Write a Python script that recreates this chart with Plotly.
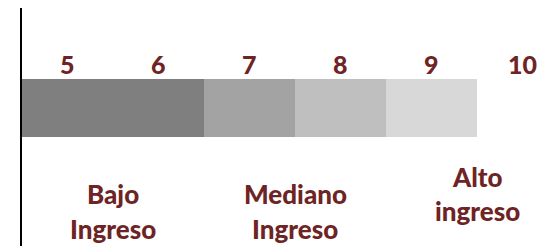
import plotly.graph_objects as go

# ---- data ----
tick_values = [5, 6, 7, 8, 9, 10]
tick_labels = ["5", "6", "7", "8", "9", "10"]
segment_start = [4.5, 6.5, 7.5, 8.5]
segment_end = [6.5, 7.5, 8.5, 9.5]
segment_colors = ["#7f7f7f", "#a3a3a3", "#bfbfbf", "#d8d8d8"]
group_line1 = ["Bajo", "Mediano", "Alto"]
group_line2 = ["Ingreso", "Ingreso", "ingreso"]
group_center = [5.5, 7.5, 9.5]

TEXT_COLOR = "#6e2424"
FONT = "Lato"

# page body has an 8px margin; positions below are in window pixels
SHIFT = 8

fig = go.Figure()
for s, e, c in zip(segment_start, segment_end, segment_colors):
    fig.add_trace(go.Bar(
        y=[108], x=[e - s], base=[s], orientation="h", width=58,
        marker=dict(color=c, line=dict(width=0)), showlegend=False,
        hoverinfo="skip",
    ))

for v, lab in zip(tick_values, tick_labels):
    fig.add_annotation(x=v, y=63, text=lab, showarrow=False,
                       font=dict(family=FONT, size=25, color=TEXT_COLOR, weight=900),
                       xanchor="center", yanchor="middle")

offsets = [0, 0, -18]
for xc, l1, l2, off in zip(group_center, group_line1, group_line2, offsets):
    fig.add_annotation(x=xc, y=195 + off, text=l1, showarrow=False,
                       font=dict(family=FONT, size=26, color=TEXT_COLOR, weight=900),
                       xanchor="center", yanchor="middle")
    fig.add_annotation(x=xc, y=230 + off, text=l2, showarrow=False,
                       font=dict(family=FONT, size=26, color=TEXT_COLOR, weight=900),
                       xanchor="center", yanchor="middle")

px_per_unit = 91.0
left = 22 - SHIFT
fig.update_layout(
    width=553, height=246,
    margin=dict(l=left, r=0, t=0, b=0),
    paper_bgcolor="white", plot_bgcolor="white",
    barmode="overlay", bargap=0,
    xaxis=dict(range=[4.5, 4.5 + (553 - left) / px_per_unit], showgrid=False,
               zeroline=False, showticklabels=False, ticks="",
               showline=False, fixedrange=True),
    yaxis=dict(range=[246 + SHIFT + 1, SHIFT - 1], showgrid=False, zeroline=False,
               showticklabels=False, ticks="", showline=True,
               linecolor="black", linewidth=2, fixedrange=True),
)
fig.write_html("out.html")
